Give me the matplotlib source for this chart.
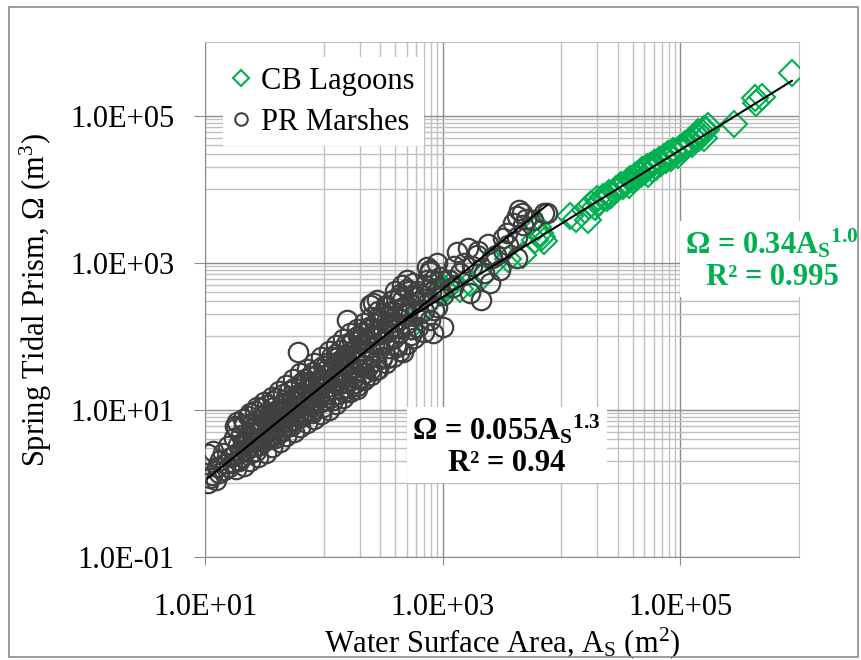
import numpy as np
import matplotlib
matplotlib.use("Agg")
import matplotlib.pyplot as plt
from matplotlib.lines import Line2D
from matplotlib.ticker import FixedLocator, FuncFormatter, NullFormatter
from matplotlib.patches import Rectangle

plt.rcParams["font.family"] = "Liberation Serif"
plt.rcParams["mathtext.fontset"] = "custom"
plt.rcParams["mathtext.rm"] = "Liberation Serif"
plt.rcParams["mathtext.it"] = "Liberation Serif:italic"
plt.rcParams["mathtext.bf"] = "Liberation Serif:bold"

# ---------------- data ----------------
# PR marshes: water surface area (m2) and spring tidal prism (m3)
marsh_area = [
    10.5, 10.5, 11.0, 11.5, 11.7, 12.3, 12.6, 13.2, 13.5, 14.1, 14.5, 15.1, 15.5, 15.8, 16.6,
    17.0, 17.4, 17.8, 18.2, 18.6, 19.1, 19.1, 20.0, 20.0, 20.4, 20.9, 21.4, 21.9, 22.4, 22.9,
    23.4, 24.0, 24.5, 25.1, 25.1, 26.3, 26.3, 26.9, 27.5, 28.2, 28.8, 28.8, 29.5, 30.2, 30.9,
    31.6, 31.6,
    32.4, 33.1, 33.9, 33.9, 34.7, 35.5, 36.3, 37.2, 37.2, 38.0, 38.9, 39.8, 39.8, 40.7, 41.7,
    41.7, 42.7, 43.7, 44.7, 45.7, 45.7, 46.8, 47.9, 47.9, 49.0, 50.1, 50.1, 51.3, 52.5, 53.7,
    55.0, 55.0, 56.2, 57.5, 58.9, 60.3, 60.3, 61.7, 63.1, 63.1,
    64.6, 66.1, 67.6, 67.6, 69.2, 70.8, 72.4, 74.1, 75.9, 75.9, 77.6, 79.4, 79.4, 81.3, 83.2,
    85.1, 85.1, 87.1, 89.1, 91.2, 93.3, 95.5, 95.5, 97.7, 100, 100, 102, 105, 107, 110,
    112, 112, 115, 117, 120, 123, 126, 126,
    129, 132, 135, 138, 141, 141, 145, 148, 151, 155, 158, 158, 158, 162, 166,
    170, 174, 174, 178, 182, 186, 191, 191, 195, 200, 200, 204, 209, 214, 219,
    224, 229, 234, 240, 245, 245, 251, 251,
    257, 263, 269, 275, 282, 282, 288, 295, 302, 309, 316, 316, 324, 331, 339,
    347, 355, 363, 372, 380, 389, 398, 398, 417, 427, 437, 447, 457, 468, 479,
    490, 501, 501, 525, 537, 550, 562, 575, 589, 603, 617, 631,
    661, 692, 708, 741, 741, 759, 776, 776, 776, 794, 832, 851, 891, 891, 933,
    955, 1000, 1000, 1122, 1230, 1259, 1318, 1413, 1514, 1622, 1698,
    1778, 1950, 1995, 2089, 2239, 2399, 2512, 2630, 2818, 3020, 3236, 3236, 3467, 3548, 3890,
    4266, 4266, 4266, 4365, 4677, 4786, 5012, 5754, 7079, 7586,
    17.8, 20.9, 24.0, 27.5, 31.6, 36.3, 41.7, 47.9, 55.0, 63.1, 72.4, 83.2, 95.5, 110, 126,
    145, 166, 191, 219, 251, 288, 331, 380, 437, 501,
    18.2, 21.4, 24.0, 28.2, 32.4, 36.3, 42.7, 47.9, 56.2, 63.1, 72.4, 83.2, 95.5, 110, 126,
    145, 166, 191, 219, 251, 288, 331, 380, 437, 501, 575, 692, 832,
    21.4, 25.7, 29.5, 33.9, 38.9, 44.7, 51.3, 58.9, 67.6, 77.6, 89.1, 102, 117, 135, 155,
    178, 204, 234, 269, 309, 355, 407, 468, 537,
    19.5, 22.9, 26.9, 30.9, 35.5, 38.0, 43.7, 46.8, 52.5, 57.5, 64.6, 70.8, 79.4, 87.1, 97.7,
    107, 120, 132, 148, 162, 182, 200, 224, 245, 275, 302, 339, 372, 417, 457,
]
marsh_prism = [
    1.0, 2.5, 1.2, 1.32, 2.8, 1.12, 1.66, 1.38, 2.1, 2.6, 1.5, 1.9, 3.2, 1.66, 2.3,
    1.9, 4.2, 2.5, 5.6, 6.9, 2.1, 3.3, 2.75, 4.5, 2.3, 3.55, 6.3, 2.8, 4.2, 8.3,
    3.0, 5.0, 2.6, 3.8, 6.6, 3.2, 9.5, 4.8, 3.8, 7.2, 3.3, 5.2, 10.5, 4.2, 6.3,
    3.8, 8.7,
    5.0, 11.5, 4.2, 6.9, 5.8, 9.1, 4.6, 7.6, 13.2, 6.0, 9.5, 4.8, 7.2, 14.5, 6.3,
    10.0, 5.2, 8.3, 12.0, 6.6, 16.6, 9.5, 5.8, 7.9, 12.6, 6.9, 10.5, 18.2, 8.7, 13.2,
    7.2, 11.0, 20.0, 9.1, 14.5, 61.7, 7.9, 11.5, 16.6, 9.5,
    22.9, 12.0, 8.7, 15.8, 26.3, 12.6, 19.1, 10.0, 14.5, 28.8, 20.0, 11.5, 16.6, 33.1, 17.4,
    12.6, 24.0, 20.0, 36.3, 15.1, 26.3, 20.9, 12.6, 39.8, 22.9, 15.8, 30.2, 18.2, 43.7, 25.1,
    14.5, 33.1, 52.5, 27.5, 19.1, 38.0, 24.0, 57.5,
    31.6, 16.6, 45.7, 66.1, 27.5, 19.1, 39.8, 22.9, 55.0, 79.4, 31.6, 43.7, 166, 20.0, 60.3,
    38.0, 25.1, 87.1, 50.1, 31.6, 69.2, 19.1, 45.7, 100, 57.5, 27.5, 79.4, 39.8, 115, 63.1,
    31.6, 91.2, 50.1, 132, 263, 72.4, 36.3, 100,
    282, 79.4, 145, 45.7, 105, 309, 182, 69.2, 126, 52.5, 110, 209, 83.2, 158, 251,
    115, 69.2, 191, 132, 316, 95.5, 158, 417, 229, 110, 347, 174, 501, 60.3, 251,
    145, 575, 200, 417, 275, 126, 525, 363, 200, 417, 132, 302,
    380, 219, 501, 871, 575, 288, 741, 794, 166, 398, 575, 229, 977, 251, 457,
    631, 135, 363, 575, 468, 912, 1380, 724, 1000, 1585, 389,
    912, 1259, 1445, 309, 724, 1820, 525, 1175, 1259, 794, 2138, 1479, 2512, 1738, 3467,
    4365, 2239, 1175, 5129, 4677, 3236, 3981, 3802, 4677, 4786,
    6.0, 7.6, 9.1, 11.0, 12.6, 15.1, 18.2, 21.9, 26.3, 31.6, 36.3, 43.7, 52.5, 63.1, 75.9,
    91.2, 110, 126, 151, 182, 219, 263, 316, 380, 437,
    1.58, 1.74, 2.0, 2.29, 2.63, 3.16, 3.63, 4.37, 5.0, 5.9, 6.6, 7.6, 8.7, 10.0, 12.0,
    14.5, 17.4, 20.9, 25.1, 30.2, 36.3, 43.7, 52.5, 63.1, 79.4, 95.5, 115, 110,
    3.8, 5.0, 6.0, 7.9, 4.2, 9.5, 6.3, 15.8, 12.6, 9.5, 22.9, 13.8, 36.3, 22.9, 50.1,
    27.5, 66.1, 38.0, 105, 50.1, 151, 75.9, 251, 105,
    2.0, 4.6, 2.8, 8.3, 4.0, 11.0, 5.0, 13.8, 6.0, 20.0, 7.9, 24.0, 9.1, 30.2, 11.0,
    36.3, 13.8, 52.5, 17.4, 75.9, 22.9, 91.2, 27.5, 126, 34.7, 166, 50.1, 219, 72.4, 316,
]

# CB lagoons: water surface area (m2) and spring tidal prism (m3)
lagoon_area = [
    457, 537, 631, 794, 955, 1047, 1000, 1230, 1413, 1698, 2138, 2692, 3548, 4786, 6026,
    6310, 6607, 6918, 7079,
    11750, 13180, 15850, 16600, 17780, 19050, 19950, 20890, 22390, 23990, 25120, 26300,
    28840, 30200, 31620, 33110, 35480, 37150, 38020, 39810,
    41690, 43650, 44670, 46770, 47860, 50120, 52480, 53700, 56230, 57540, 60260, 63100,
    66070, 69180, 72440, 75860, 79430, 83180, 87100, 91200, 95500, 100000, 104700, 109600,
    114800, 120200, 125900, 131800, 138000, 144500, 151400, 158500, 166000, 169800,
    141300, 158500,
    281800, 426600, 436500, 489800, 871000,
]
lagoon_prism = [
    229, 135, 200, 316, 389, 427, 468, 525, 437, 525, 631, 1000, 1122, 1259, 2042,
    3020, 2512, 2239, 1995,
    4365, 3981, 5248, 3802, 6310, 5754, 7244, 6607, 7943, 7586, 8913, 8318,
    10000, 10470, 11220, 10960, 12590, 11220, 13800, 13180,
    15140, 14450, 16600, 15850, 18200, 17380, 19950, 15850, 20890, 19050, 22910, 19950,
    25120, 22910, 27540, 25120, 30200, 26300, 33110, 31620, 28840, 36310, 34670, 41690,
    38020, 45710, 41690, 50120, 54950, 50120, 60260, 66070, 63100, 72440,
    60260, 50120,
    75860, 173800, 147900, 177800, 380200,
]

# power-law fits, Omega = c * A^b
marsh_coef, marsh_exp, marsh_r2 = 0.055, 1.3, 0.94
lagoon_coef, lagoon_exp, lagoon_r2 = 0.34, 1.0, 0.995

x_ticks = [1e1, 1e3, 1e5]
y_ticks = [1e-1, 1e1, 1e3, 1e5]

green = "#00B050"
dark = "#404040"

# ---------------- figure ----------------
fig = plt.figure(figsize=(8.61, 6.60), dpi=100)
ax = fig.add_axes([205/861, 1-557/660, 594/861, 515/660])
ax.set_xscale("log")
ax.set_yscale("log")
ax.set_xlim(1e1, 1e6)
ax.set_ylim(1e-1, 1e6)

# gridlines: darker every other decade, lighter sub-decade lines
ax.xaxis.set_major_locator(FixedLocator(x_ticks))
ax.yaxis.set_major_locator(FixedLocator(y_ticks))
xminor = [k*10.0**d for d in (2, 4) for k in range(1, 10)]
yminor = [k*10.0**d for d in (0, 2, 4) for k in range(1, 10)]
ax.xaxis.set_minor_locator(FixedLocator(xminor))
ax.yaxis.set_minor_locator(FixedLocator(yminor))
ax.xaxis.set_minor_formatter(NullFormatter())
ax.yaxis.set_minor_formatter(NullFormatter())
fmt = FuncFormatter(lambda v, _: f"{v:.1E}")
ax.xaxis.set_major_formatter(fmt)
ax.yaxis.set_major_formatter(fmt)
ax.grid(which="major", color="#8C8C8C", lw=1.0)
ax.grid(which="minor", color="#C0C0C0", lw=1.0)
ax.set_axisbelow(True)

ax.tick_params(which="minor", length=0)
ax.tick_params(which="major", direction="out", color="#8C8C8C", labelsize=22)
ax.tick_params(axis="y", which="major", length=8, pad=14)
ax.tick_params(axis="x", which="major", length=6, pad=20)
for s in ("left", "bottom"):
    ax.spines[s].set_color("#8C8C8C")
for s in ("top", "right"):
    ax.spines[s].set_color("#C0C0C0")

# data series
ax.plot(lagoon_area, lagoon_prism, ls="none", marker="D", ms=13, mfc="none",
        mec=green, mew=1.5, zorder=3)
ax.plot(marsh_area, marsh_prism, ls="none", marker="o", ms=14, mfc="none",
        mec=dark, mew=1.6, zorder=4)

# trendlines
xa = np.array([min(marsh_area), max(marsh_area)])
ax.plot(xa, marsh_coef*xa**marsh_exp, color="black", lw=1.5, zorder=5)
xb = np.array([min(lagoon_area), max(lagoon_area)])
ax.plot(xb, lagoon_coef*xb**lagoon_exp, color="black", lw=1.5, zorder=5)

ax.set_xlabel("Water Surface Area, A$_\\mathrm{S}$ (m$^2$)", fontsize=22, labelpad=2)
ax.set_ylabel("Spring Tidal Prism, \u03a9 (m$^3$)", fontsize=22, labelpad=12)

handles = [
    Line2D([], [], ls="none", marker="D", ms=8, mfc="none", mec=green, mew=1.5),
    Line2D([], [], ls="none", marker="o", ms=9, mfc="none", mec=dark, mew=1.5),
]
leg = ax.legend(handles, ["CB Lagoons", "PR Marshes"], loc="upper left",
                bbox_to_anchor=(0.03, 0.97), fontsize=22, frameon=True,
                fancybox=False, edgecolor="none", facecolor="white", framealpha=1,
                handlelength=0.6, handletextpad=0.35, labelspacing=0.4,
                borderpad=0.3, borderaxespad=0)
leg.set_zorder(6)

ax.text(0.508, 0.217,
        f"\u03a9 = {marsh_coef}A$_\\mathbf{{S}}{{}}^\\mathbf{{{marsh_exp}}}$\nR\u00b2 = {marsh_r2}",
        transform=ax.transAxes, ha="center", va="center", ma="center",
        fontsize=22, fontweight="bold", color="black", zorder=7, linespacing=1.1,
        bbox=dict(facecolor="white", edgecolor="none", pad=4))
ax.text(0.955, 0.578,
        f"\u03a9 = {lagoon_coef}A$_\\mathbf{{S}}{{}}^\\mathbf{{{lagoon_exp}}}$\nR\u00b2 = {lagoon_r2}",
        transform=ax.transAxes, ha="center", va="center", ma="center",
        fontsize=22, fontweight="bold", color=green, zorder=7, linespacing=1.1,
        bbox=dict(facecolor="white", edgecolor="none", pad=4))

# chart border
fig.patches.append(Rectangle((9/861, 3/660), 849/861, 650/660, transform=fig.transFigure,
                             fill=False, edgecolor="#8C8C8C", lw=1.2))

fig.savefig("out.png", dpi=100)
